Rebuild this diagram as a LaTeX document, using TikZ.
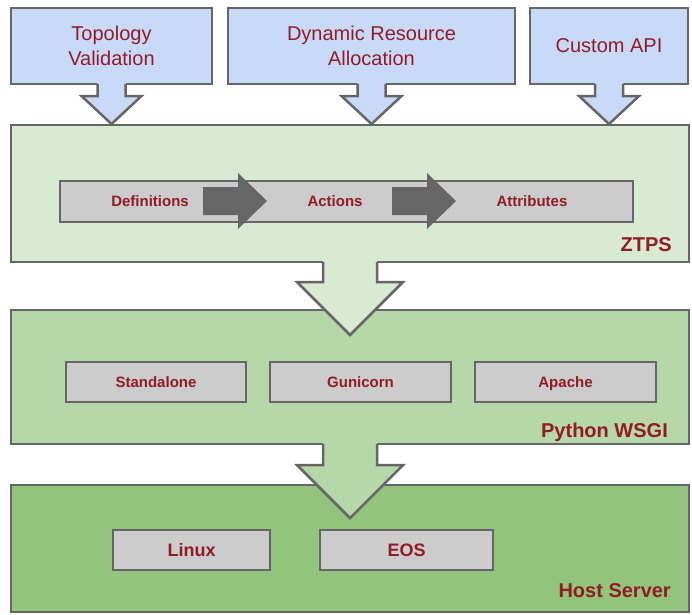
\documentclass[tikz,border=0pt]{standalone}
\usepackage{fontspec}
\setmainfont{Liberation Sans}
\usepackage{xcolor}
\usepackage{tikz}
\usetikzlibrary{calc, positioning}
\definecolor{topblue}{RGB}{201,218,248}
\definecolor{ztpsgreen}{RGB}{217,234,211}
\definecolor{wsgigreen}{RGB}{182,215,168}
\definecolor{hostgreen}{RGB}{147,196,125}
\definecolor{innergray}{RGB}{204,204,204}
\definecolor{linegray}{RGB}{102,102,102}
\definecolor{textred}{RGB}{145,28,38}
\tikzstyle{feature}=[draw=linegray, line width=2.5pt, fill=topblue, text=textred, align=center,
font=\fontsize{20}{25}\selectfont, minimum height=76pt, inner sep=0pt, outer sep=0pt]
\tikzstyle{layer}=[draw=linegray, line width=2.5pt, minimum width=678pt, inner sep=0pt, outer sep=0pt]
\tikzstyle{module}=[draw=linegray, line width=2pt, fill=innergray, text=textred,
font=\fontsize{15}{18}\selectfont\bfseries, minimum height=40pt, inner sep=0pt, outer sep=0pt,
text height=11pt, text depth=0pt]
\tikzstyle{os}=[module, font=\fontsize{18}{21}\selectfont\bfseries, text height=13pt]
\tikzstyle{step label}=[text=textred, font=\fontsize{15}{18}\selectfont\bfseries, inner sep=0pt,
text height=11pt, text depth=0pt]
\tikzstyle{layername}=[text=textred, font=\fontsize{20}{24}\selectfont\bfseries, anchor=base east, inner sep=0pt]
\tikzstyle{arrowline}=[draw=linegray, line width=2.5pt]
\newcommand{\blockarrow}[6]{%
  \fill[#2] ($(#1)+(-#3,-2)$) -- ++(0,{#4+2}) -- ++({#3-#5},0) -- ++(#5,#6) -- ++(#5,-#6)
    -- ++({#3-#5},0) -- ++(0,{-#4-2}) -- cycle;
  \draw[arrowline] ($(#1)+(-#3,0)$) -- ++(0,#4) -- ++({#3-#5},0) -- ++(#5,#6) -- ++(#5,-#6)
    -- ++({#3-#5},0) -- ++(0,-#4);
}
\newcommand{\flowarrow}[1]{%
  \fill[linegray] ($(#1)+(0,-14)$) -- ++(35,0) -- ++(0,-14) -- ++(29,28) -- ++(-29,28)
    -- ++(0,-14) -- ++(-35,0) -- cycle;
}

\begin{document}
\begin{tikzpicture}[x=1pt, y=-1pt]
\useasboundingbox (0,0) rectangle (692,614);

\node[feature, minimum width=201pt] (topo) at (111.5,46) {Topology\\Validation};
\node[feature, minimum width=287pt] (dra) at (371.5,46) {Dynamic Resource\\Allocation};
\node[feature, minimum width=158pt] (capi) at (609,46) {Custom API};

\node[layer, fill=ztpsgreen, minimum height=137pt] (ztps) at (350,193.5) {};
\node[layer, fill=wsgigreen, minimum height=134pt] (wsgi) at (350,377) {};
\node[layer, fill=hostgreen, minimum height=127pt] (host) at (350,548.5) {};

\node[layername] (ztpsname) at (672,251) {ZTPS};
\node[layername] (wsginame) at (668,437) {Python WSGI};
\node[layername] (hostname) at (671,597) {Host Server};

% ZTPS
\node[module, minimum width=573pt, minimum height=41pt] (bar) at (346.5,201.5) {};
\node[step label] (def) at (150,201) {Definitions};
\node[step label] (act) at (335,201) {Actions};
\node[step label] (attr) at (532,201) {Attributes};
\coordinate (defact) at (203,201);
\coordinate (actattr) at (392,201);
\flowarrow{defact}
\flowarrow{actattr}

% Python WSGI
\node[module, minimum width=180pt] (standalone) at (156,382) {Standalone};
\node[module, minimum width=181pt] (gunicorn) at (360.5,382) {Gunicorn};
\node[module, minimum width=181pt] (apache) at (565.5,382) {Apache};

% Host Server
\node[os, minimum width=157pt] (linux) at (191.5,550) {Linux};
\node[os, minimum width=173pt] (eos) at (406.5,550) {EOS};

\blockarrow{topo.south}{topblue}{14}{12}{30}{28}
\blockarrow{dra.south}{topblue}{14}{12}{30}{28}
\blockarrow{capi.south}{topblue}{14}{12}{30}{28}
\blockarrow{ztps.south}{ztpsgreen}{27}{20}{53}{53}
\blockarrow{wsgi.south}{wsgigreen}{27}{21}{53}{53}
\end{tikzpicture}
\end{document}
